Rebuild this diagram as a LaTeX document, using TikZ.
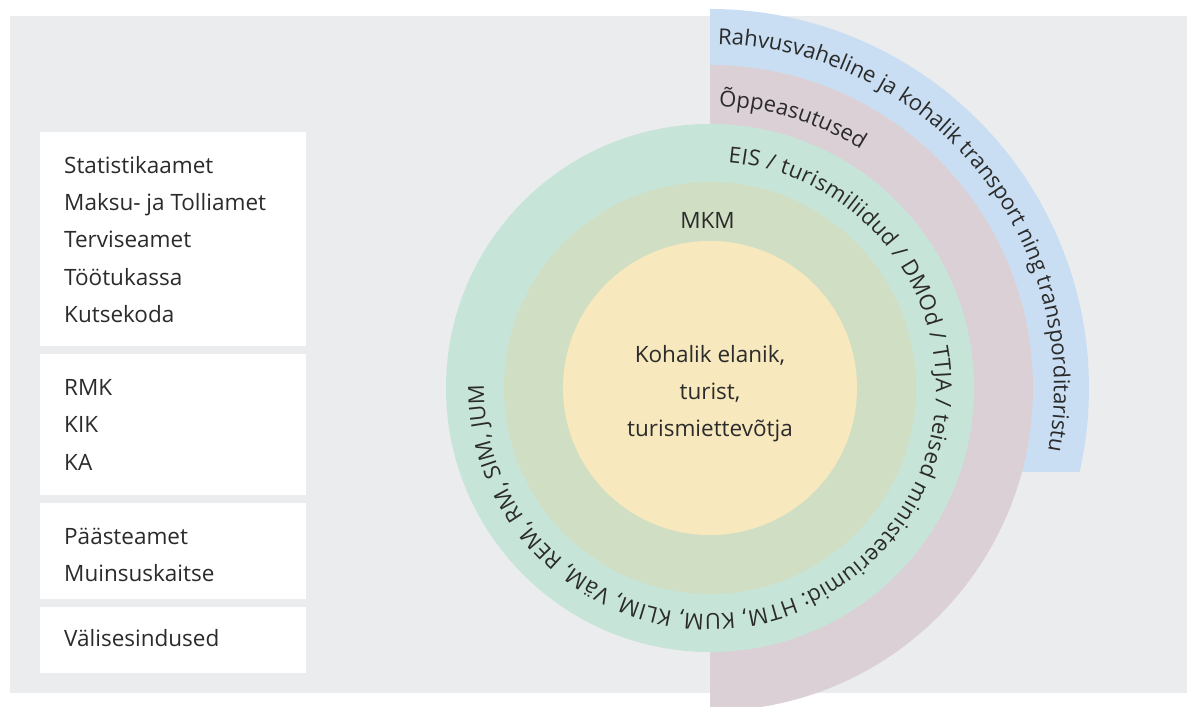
\documentclass[tikz,border=0pt]{standalone}
\usepackage{fontspec}
\setmainfont{Open Sans}
\usetikzlibrary{decorations.text,calc}
\definecolor{bggray}{HTML}{EBECEE}
\definecolor{ringblue}{HTML}{C9DEF2}
\definecolor{ringpurple}{HTML}{DCD0D7}
\definecolor{ringteal}{HTML}{C7E4D8}
\definecolor{ringolive}{HTML}{D0DFC3}
\definecolor{ringyellow}{HTML}{F8E8BD}
\definecolor{textdark}{HTML}{2B2B2B}
\newcommand{\labfont}{\fontsize{22.5}{27}\selectfont}
\newcommand{\arcfont}{\fontsize{22}{26}\selectfont}
\begin{document}
\begin{tikzpicture}[x=1pt,y=1pt,
  whitebox/.style={fill=white, draw=none, minimum width=266pt, inner sep=0pt, anchor=north west},
  boxline/.style={anchor=base west, inner sep=0pt, font=\labfont, text=textdark},
  coreline/.style={anchor=base, inner sep=0pt, font=\labfont, text=textdark},
  curvetext/.style={decorate, decoration={text along path, text color=textdark, #1}}
]
\useasboundingbox (0,0) rectangle (1187,707);
\fill[bggray] (10,14) rectangle (1187,691);
\coordinate (C) at (710,319);

% rings
\fill[ringblue] (710,235) -- (710,698) arc[start angle=90, end angle=-12.8, radius=379] -- cycle;
\fill[ringpurple] (710,-4) -- (710,642) arc[start angle=90, end angle=-90, radius=323] -- cycle;
\fill[ringteal] (C) circle[radius=264];
\fill[ringolive] (C) circle[radius=206];
\fill[ringyellow] (C) circle[radius=147];

% curved texts
\path[curvetext={text={|\arcfont|Rahvusvaheline ja kohalik transport ning transporditaristu}, text align={fit to path}}]
  ($(C)+(88.7:344)$) arc[start angle=88.7, end angle=-10.5, radius=344];
\path[curvetext={text={|\arcfont|Õppeasutused}, text align=left}]
  ($(C)+(88.2:282)$) arc[start angle=88.2, end angle=30, radius=282];
\path[curvetext={text={|\arcfont|EIS / turismiliidud / DMOd / TTJA / teised ministeeriumid: HTM, KUM, KLIM, VäM, REM, RM, SIM, JUM}, text align={fit to path}}]
  ($(C)+(85.4:226)$) arc[start angle=85.4, end angle=-180.8, radius=226];

% center texts
\node[coreline] (mkm) at (707.5,478) {MKM};
\node[coreline] (core1) at (710,344) {Kohalik elanik,};
\node[coreline] (core2) at (710,307) {turist,};
\node[coreline] (core3) at (710,270) {turismiettevõtja};

% left boxes
\node[whitebox, minimum height=214pt] (box1) at (40,575) {};
\node[whitebox, minimum height=141pt] (box2) at (40,353) {};
\node[whitebox, minimum height=96pt] (box3) at (40,204) {};
\node[whitebox, minimum height=66pt] (box4) at (40,100) {};

\node[boxline] (l1) at (64,533) {Statistikaamet};
\node[boxline] (l2) at (64,496) {Maksu- ja Tolliamet};
\node[boxline] (l3) at (64,459) {Terviseamet};
\node[boxline] (l4) at (64,421) {Töötukassa};
\node[boxline] (l5) at (64,384) {Kutsekoda};
\node[boxline] (l6) at (64,311) {RMK};
\node[boxline] (l7) at (64,274) {KIK};
\node[boxline] (l8) at (64,236) {KA};
\node[boxline] (l9) at (64,162) {Päästeamet};
\node[boxline] (l10) at (64,125) {Muinsuskaitse};
\node[boxline] (l11) at (64,60) {Välisesindused};
\end{tikzpicture}
\end{document}
